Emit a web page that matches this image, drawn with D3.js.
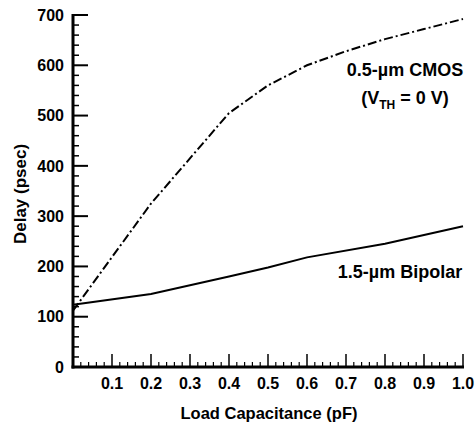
<!DOCTYPE html>
<html><head><meta charset="utf-8">
<script src="https://cdn.jsdelivr.net/npm/d3@7"></script>
<style>
body{margin:0;background:#fff;}
svg text{font-family:"Liberation Sans",Arial,Helvetica,sans-serif;font-weight:bold;fill:#000;}
</style></head>
<body><svg id="c" width="476" height="424"></svg>
<script>
// Data
const cmosX = [0.0, 0.2, 0.4, 0.5, 0.6, 0.7, 0.8, 0.9, 1.0];
const cmosY = [112, 325, 505, 560, 600, 628, 652, 672, 692];
const bipolarX = [0.0, 0.2, 0.4, 0.5, 0.6, 0.8, 1.0];
const bipolarY = [124, 145, 180, 198, 218, 245, 280];
const xTicks = [0.1, 0.2, 0.3, 0.4, 0.5, 0.6, 0.7, 0.8, 0.9, 1.0];
const yTicks = [0, 100, 200, 300, 400, 500, 600, 700];

const svg = d3.select("#c");
const x = d3.scaleLinear().domain([0, 1]).range([73, 463]);
const y = d3.scaleLinear().domain([0, 700]).range([367, 15]);

const line = d3.line().x(d => x(d[0])).y(d => y(d[1]));

// curves
svg.append("path").datum(cmosX.map((v, i) => [v, cmosY[i]]))
  .attr("d", line).attr("fill", "none").attr("stroke", "#000")
  .attr("stroke-width", 2).attr("stroke-dasharray", "9,3,2,3");
svg.append("path").datum(bipolarX.map((v, i) => [v, bipolarY[i]]))
  .attr("d", line).attr("fill", "none").attr("stroke", "#000")
  .attr("stroke-width", 2);

// y axis: minor ticks
const yMinor = d3.range(0, 701, 20).filter(v => v % 100 !== 0);
const yAx = svg.append("g");
yAx.selectAll("line.mi").data(yMinor).join("line")
  .attr("x1", x(0)).attr("x2", x(0) + 6).attr("y1", d => y(d)).attr("y2", d => y(d))
  .attr("stroke", "#000").attr("stroke-width", 1.5);
yAx.selectAll("line.ma").data(yTicks).join("line")
  .attr("x1", x(0)).attr("x2", x(0) + 15).attr("y1", d => y(d)).attr("y2", d => y(d))
  .attr("stroke", "#000").attr("stroke-width", 2);
yAx.selectAll("text").data(yTicks).join("text")
  .attr("x", 64).attr("y", d => y(d)).attr("dy", "0.36em")
  .attr("text-anchor", "end").attr("font-size", 16).text(d => d);

// x axis
const xMinor = d3.range(0, 51).map(i => i / 50).filter((v, i) => i % 5 !== 0);
const xAx = svg.append("g");
xAx.selectAll("line.mi").data(xMinor).join("line")
  .attr("x1", d => x(d)).attr("x2", d => x(d)).attr("y1", y(0)).attr("y2", y(0) - 5)
  .attr("stroke", "#000").attr("stroke-width", 1.2);
xAx.selectAll("line.ma").data(xTicks).join("line")
  .attr("x1", d => x(d)).attr("x2", d => x(d)).attr("y1", y(0)).attr("y2", y(0) - 13)
  .attr("stroke", "#000").attr("stroke-width", 1.5);
xAx.selectAll("text").data(xTicks).join("text")
  .attr("x", d => x(d)).attr("y", 389)
  .attr("text-anchor", "middle").attr("font-size", 16).text(d => d.toFixed(1));

// axis lines
svg.append("line").attr("x1", x(0)).attr("x2", x(0)).attr("y1", y(700) - 1).attr("y2", y(0) + 1.5)
  .attr("stroke", "#000").attr("stroke-width", 3);
svg.append("line").attr("x1", x(0) - 1.5).attr("x2", x(1) + 1).attr("y1", y(0)).attr("y2", y(0))
  .attr("stroke", "#000").attr("stroke-width", 3);

// axis titles
svg.append("text").attr("transform", "translate(26,194) rotate(-90)")
  .attr("text-anchor", "middle").attr("font-size", 17).text("Delay (psec)");
svg.append("text").attr("x", 269).attr("y", 419)
  .attr("text-anchor", "middle").attr("font-size", 16.5).text("Load Capacitance (pF)");

// annotations
svg.append("text").attr("x", 405).attr("y", 76).attr("text-anchor", "middle")
  .attr("font-size", 18).text("0.5-\u00b5m CMOS");
const t2 = svg.append("text").attr("x", 405).attr("y", 104).attr("text-anchor", "middle")
  .attr("font-size", 18);
t2.append("tspan").text("(V");
t2.append("tspan").attr("font-size", 12).attr("dy", 5).text("TH");
t2.append("tspan").attr("dy", -5).text(" = 0 V)");
svg.append("text").attr("x", 400).attr("y", 278).attr("text-anchor", "middle")
  .attr("font-size", 18).text("1.5-\u00b5m Bipolar");
</script></body></html>
